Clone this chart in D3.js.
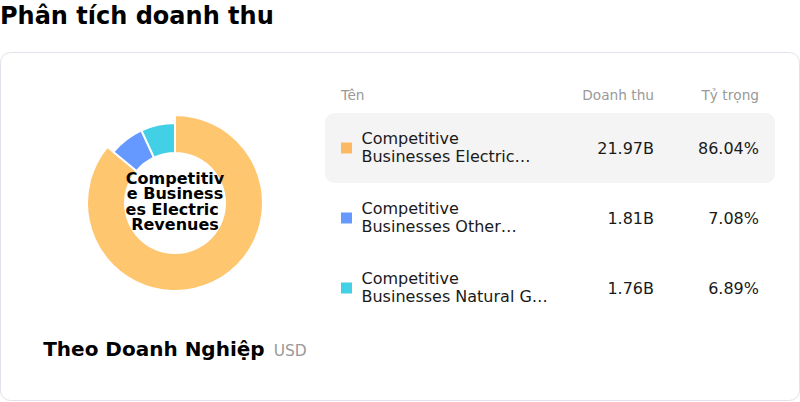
<!DOCTYPE html>
<html><head><meta charset="utf-8">
<script src="https://cdn.jsdelivr.net/npm/d3@7"></script>
<style>
html,body{margin:0;padding:0;background:#fff;}
svg{display:block;font-family:"DejaVu Sans",sans-serif;}
</style></head>
<body>
<svg id="chart" width="800" height="402"></svg>
<script>
const names = [
  "Competitive Businesses Electric Revenues",
  "Competitive Businesses Other Revenues",
  "Competitive Businesses Natural Gas Revenues"
];
const revenues = [21.97, 1.81, 1.76];          // billions USD
const shares = [86.04, 7.08, 6.89];            // %
const colors = ["#FFC670", "#6699FF", "#42D0E6"];
const swatchColors = ["#FDB863", "#6699FF", "#42D0E6"];
const headers = ["Tên", "Doanh thu", "Tỷ trọng"];
const title = "Phân tích doanh thu";
const subtitle = "Theo Doanh Nghiệp";
const unit = "USD";
const activeIndex = 0;

const svg = d3.select("#chart");
const FONT = '"DejaVu Sans", sans-serif';
const cvs = document.createElement("canvas").getContext("2d");
function measure(t, size, weight) {
  cvs.font = `${weight||"normal"} ${size}px ${FONT}`;
  return cvs.measureText(t).width;
}

svg.append("text").attr("x", 0).attr("y", 24)
  .attr("font-size", 24).attr("font-weight", "bold").attr("fill", "#000")
  .text(title);

svg.append("rect").attr("x", 0.5).attr("y", 52.5).attr("width", 799).attr("height", 348)
  .attr("rx", 10).attr("fill", "#fff").attr("stroke", "#E2E0EA");

// Donut
const cx = 175, cy = 203;
const pie = d3.pie().sort(null).value(d => d)(revenues);
const arc = d3.arc().innerRadius(50);
const g = svg.append("g").attr("transform", `translate(${cx},${cy})`);
g.selectAll("path").data(pie).join("path")
  .attr("d", (d, i) => arc.outerRadius(i === activeIndex ? 88 : 80)(d))
  .attr("fill", (d, i) => colors[i])
  .attr("stroke", "#fff").attr("stroke-width", 2);

// center label, break-all wrap
function breakAll(t, maxW, size, weight) {
  const lines = []; let cur = "";
  for (const ch of t) {
    if (measure((cur + ch).replace(/\s+$/, ""), size, weight) > maxW && cur.length) {
      lines.push(cur); cur = ch === " " ? "" : ch;
      if (ch === " ") { lines[lines.length-1] += " "; }
    } else cur += ch;
  }
  if (cur) lines.push(cur);
  return lines;
}
const centerLines = breakAll(names[activeIndex], 100, 16, "bold");
const lh = 15.6;
const ct = svg.append("text").attr("font-size", 16).attr("font-weight", "bold")
  .attr("text-anchor", "middle").attr("fill", "#000").style("white-space", "pre");
centerLines.forEach((l, i) => {
  ct.append("tspan").attr("x", cx).attr("y", cy - (centerLines.length - 1) / 2 * lh + 4 + i * lh).text(l);
});

// subtitle
const stW = measure(subtitle, 20, "bold"), uW = measure(unit, 15.5);
const gap = 9;
const sx = cx - (stW + gap + uW) / 2;
svg.append("text").attr("x", sx).attr("y", 356).attr("font-size", 20).attr("font-weight", "bold")
  .attr("fill", "#000").text(subtitle);
svg.append("text").attr("x", sx + stW + gap).attr("y", 356).attr("font-size", 15.5)
  .attr("fill", "#999").text(unit);

// Table
const colName = 341, colRev = 654, colShare = 759;
const y = d3.scaleBand().domain(d3.range(names.length)).range([113, 113 + 70 * names.length]);
svg.append("text").attr("x", colName).attr("y", 100).attr("font-size", 13.7).attr("fill", "#999").text(headers[0]);
svg.append("text").attr("x", colRev).attr("y", 100).attr("font-size", 13.7).attr("fill", "#999").attr("text-anchor", "end").text(headers[1]);
svg.append("text").attr("x", colShare).attr("y", 100).attr("font-size", 13.7).attr("fill", "#999").attr("text-anchor", "end").text(headers[2]);

svg.append("rect").attr("x", 325).attr("y", y(activeIndex)).attr("width", 450).attr("height", y.bandwidth())
  .attr("rx", 9).attr("fill", "#F4F4F4");

function clamp2(t, maxW, size) {
  const words = t.split(" "); const lines = []; let cur = "";
  for (const w of words) {
    const test = cur ? cur + " " + w : w;
    if (measure(test, size) > maxW && cur) { lines.push(cur); cur = w; } else cur = test;
  }
  if (cur) lines.push(cur);
  if (lines.length <= 2) return lines;
  let l2 = lines[1];
  while (l2.length && measure(l2 + "…", size) > maxW) l2 = l2.slice(0, -1);
  return [lines[0], l2.replace(/\s+$/, "") + "…"];
}

names.forEach((n, i) => {
  const c = y(i) + y.bandwidth() / 2;
  svg.append("rect").attr("x", colName).attr("y", c - 5.5).attr("width", 11).attr("height", 11).attr("fill", swatchColors[i]);
  const ls = clamp2(n, 189.5, 16);
  const t = svg.append("text").attr("font-size", 16).attr("fill", "#1a1a1a");
  ls.forEach((l, k) => t.append("tspan").attr("x", 361.5).attr("y", c - 4 + k * 18.3).text(l));
  svg.append("text").attr("x", colRev).attr("y", c + 6).attr("font-size", 16).attr("fill", "#1a1a1a")
    .attr("text-anchor", "end").text(revenues[i].toFixed(2) + "B");
  svg.append("text").attr("x", colShare).attr("y", c + 6).attr("font-size", 16).attr("fill", "#1a1a1a")
    .attr("text-anchor", "end").text(shares[i].toFixed(2) + "%");
});
</script>
</body></html>
